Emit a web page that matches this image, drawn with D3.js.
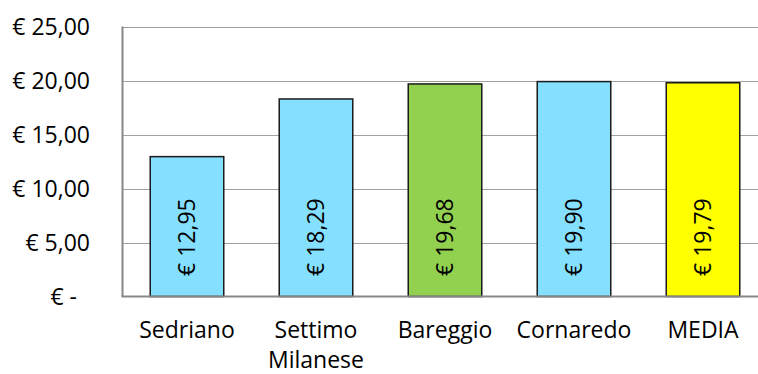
<!DOCTYPE html>
<html lang="it">
  <head>
    <meta charset="UTF-8" />
    <title>prezzi</title>
    <style>
      body { margin: 0; background: #fff; }
      svg { display: block; font-family: 'Open Sans', sans-serif; }
    </style>
  </head>
  <body>
    <svg id="chart" width="758" height="374"></svg>
    <script src="https://cdn.jsdelivr.net/npm/d3@7"></script>
    <script>
      var width = 758;
      var height = 374;

      // dati
      var comuni = ['Sedriano', 'Settimo\nMilanese', 'Bareggio', 'Cornaredo', 'MEDIA'];
      var valori = [12.95, 18.29, 19.68, 19.90, 19.79];
      var colori = ['#85dfff', '#85dfff', '#92d050', '#85dfff', '#ffff00'];
      var ticks = [0, 5, 10, 15, 20, 25];

      var margin = { left: 122.5, right: -9.5, top: 26.5, bottom: 77.5 };
      var fontSize = '23px';

      var svg = d3.select('#chart');

      var x = d3.scaleBand()
        .domain(comuni)
        .range([margin.left, width - margin.right])
        .paddingInner(0.43)
        .paddingOuter(0.215);

      var y = d3.scaleLinear()
        .domain([0, 25])
        .range([height - margin.bottom, margin.top]);

      var fmt = v => v === 0 ? '€ -' : '€ ' + d3.format('.2f')(v).replace('.', ',');

      // griglia
      svg.append('g')
        .selectAll('line')
        .data(ticks.filter(d => d > 0))
        .join('line')
        .attr('x1', margin.left)
        .attr('x2', width)
        .attr('y1', d => Math.round(y(d)) + 0.5)
        .attr('y2', d => Math.round(y(d)) + 0.5)
        .attr('stroke', '#a0a0a0')
        .attr('stroke-width', 1);

      // etichette asse y
      svg.append('g')
        .style('font-size', fontSize)
        .selectAll('text')
        .data(ticks)
        .join('text')
        .attr('x', d => d === 0 ? 77 : 90)
        .attr('y', d => y(d))
        .attr('dy', '0.35em')
        .attr('text-anchor', 'end')
        .attr('fill', '#000')
        .text(fmt);

      // barre
      svg.append('g')
        .selectAll('rect')
        .data(valori)
        .join('rect')
        .attr('x', (d, i) => x(comuni[i]))
        .attr('y', d => y(d))
        .attr('width', x.bandwidth())
        .attr('height', d => y(0) - y(d))
        .attr('fill', (d, i) => colori[i])
        .attr('stroke', '#1a1a1a')
        .attr('stroke-width', 1.5);

      // assi
      svg.append('line')
        .attr('x1', margin.left).attr('x2', margin.left)
        .attr('y1', y(25)).attr('y2', y(0))
        .attr('stroke', '#878787').attr('stroke-width', 2);
      svg.append('line')
        .attr('x1', margin.left - 1).attr('x2', width)
        .attr('y1', y(0)).attr('y2', y(0))
        .attr('stroke', '#878787').attr('stroke-width', 2);

      // valori nelle barre
      svg.append('g')
        .style('font-size', fontSize)
        .selectAll('text')
        .data(valori)
        .join('text')
        .attr('transform', (d, i) => `translate(${x(comuni[i]) + x.bandwidth() / 2},${y(1.9)}) rotate(-90)`)
        .attr('dy', '0.36em')
        .attr('text-anchor', 'start')
        .text(fmt);

      // etichette asse x
      svg.append('g')
        .style('font-size', fontSize)
        .selectAll('text')
        .data(comuni)
        .join('text')
        .attr('x', d => x(d) + x.bandwidth() / 2)
        .attr('y', 330)
        .attr('text-anchor', 'middle')
        .selectAll('tspan')
        .data(d => d.split('\n'))
        .join('tspan')
        .attr('x', function () { return d3.select(this.parentNode).attr('x'); })
        .attr('dy', (d, i) => i === 0 ? '0.35em' : '1.32em')
        .text(d => d);
    </script>
  </body>
</html>
